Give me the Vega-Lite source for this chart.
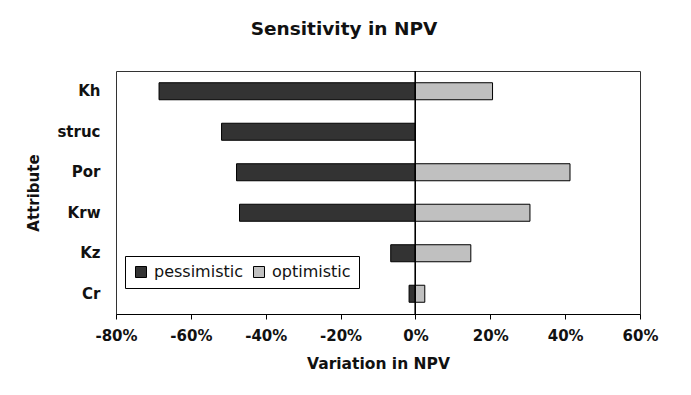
{
  "$schema": "https://vega.github.io/schema/vega-lite/v6.json",
  "width": 524,
  "height": 243,
  "autosize": "none",
  "padding": {"left": 116, "top": 71, "right": 51, "bottom": 81},
  "background": "white",
  "title": {"text": "Sensitivity in NPV", "font": "DejaVu Sans", "fontSize": 18.5, "fontWeight": "bold", "anchor": "middle", "dx": -34, "offset": 32, "color": "#111"},
  "data": {"values": [
    {"attribute": "Kh", "scenario": "pessimistic", "variation": -68.5},
    {"attribute": "Kh", "scenario": "optimistic", "variation": 20.6},
    {"attribute": "struc", "scenario": "pessimistic", "variation": -51.8},
    {"attribute": "Por", "scenario": "pessimistic", "variation": -47.8},
    {"attribute": "Por", "scenario": "optimistic", "variation": 41.3},
    {"attribute": "Krw", "scenario": "pessimistic", "variation": -47.0},
    {"attribute": "Krw", "scenario": "optimistic", "variation": 30.6},
    {"attribute": "Kz", "scenario": "pessimistic", "variation": -6.6},
    {"attribute": "Kz", "scenario": "optimistic", "variation": 14.8},
    {"attribute": "Cr", "scenario": "pessimistic", "variation": -1.7},
    {"attribute": "Cr", "scenario": "optimistic", "variation": 2.5}
  ]},
  "layer": [
    {
      "mark": {"type": "bar", "stroke": "#000", "strokeWidth": 1},
      "encoding": {
        "y": {"field": "attribute", "type": "nominal", "sort": ["Kh", "struc", "Por", "Krw", "Kz", "Cr"],
              "scale": {"paddingInner": 0.58, "paddingOuter": 0.29},
              "axis": {"title": "Attribute", "ticks": false, "domain": false, "labelFont": "DejaVu Sans", "labelFontSize": 15, "labelFontWeight": "bold", "labelColor": "#111", "labelPadding": 16, "titleFont": "DejaVu Sans", "titleFontSize": 15, "titleFontWeight": "bold", "titleColor": "#111", "titlePadding": 15}},
        "x": {"field": "variation", "type": "quantitative",
              "scale": {"domain": [-80, 60], "nice": false},
              "axis": {"title": "Variation in NPV", "values": [-80, -60, -40, -20, 0, 20, 40, 60], "labelExpr": "datum.value + '%'", "labelFlush": false, "labelOverlap": false, "grid": false, "domainColor": "#000", "tickColor": "#000", "tickSize": 5, "labelFont": "DejaVu Sans", "labelFontSize": 15, "labelFontWeight": "bold", "labelColor": "#111", "labelPadding": 9, "titleFont": "DejaVu Sans", "titleFontSize": 15.5, "titleFontWeight": "bold", "titleColor": "#111", "titlePadding": 13}},
        "color": {"field": "scenario", "type": "nominal",
                  "scale": {"domain": ["pessimistic", "optimistic"], "range": ["#333333", "#c0c0c0"]},
                  "legend": {"orient": "none", "legendX": 9, "legendY": 185, "direction": "horizontal", "title": null, "strokeColor": "#000", "fillColor": "white", "padding": 8, "symbolType": "square", "symbolSize": 121, "symbolStrokeColor": "#000", "symbolStrokeWidth": 1, "labelFont": "DejaVu Sans", "labelFontSize": 16, "labelColor": "#111", "labelOffset": 5, "columnPadding": 8}}
      }
    },
    {
      "mark": {"type": "rule", "color": "#000", "strokeWidth": 1},
      "encoding": {"x": {"datum": 0, "type": "quantitative"}}
    }
  ],
  "config": {"view": {"stroke": "#333", "strokeWidth": 1}}
}
